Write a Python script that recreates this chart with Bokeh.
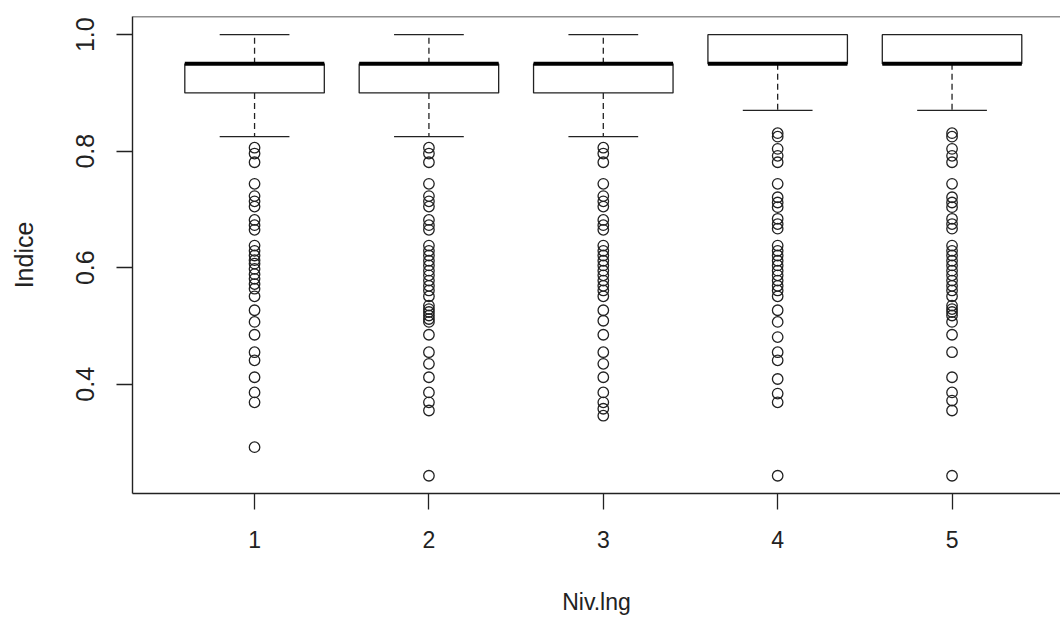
from bokeh.plotting import figure
from bokeh.models import Range1d, FixedTicker, Span, ColumnDataSource
from bokeh.embed import file_html
from bokeh.resources import INLINE

# ---- data ----
groups = [1, 2, 3, 4, 5]
group_labels = ["1", "2", "3", "4", "5"]
q1 = [0.90, 0.90, 0.90, 0.95, 0.95]
median = [0.95, 0.95, 0.95, 0.95, 0.95]
q3 = [0.95, 0.95, 0.95, 1.00, 1.00]
whisker_low = [0.825, 0.825, 0.825, 0.870, 0.870]
whisker_high = [1.00, 1.00, 1.00, 1.00, 1.00]

out1 = [0.806, 0.796, 0.781, 0.744, 0.723, 0.714, 0.705, 0.682, 0.673, 0.665,
        0.638, 0.629, 0.621, 0.613, 0.607, 0.598, 0.589, 0.581, 0.572, 0.564,
        0.551, 0.527, 0.507, 0.485, 0.455, 0.441, 0.412, 0.386, 0.369, 0.292]
out2 = [0.806, 0.796, 0.781, 0.744, 0.723, 0.714, 0.705, 0.682, 0.673, 0.665,
        0.638, 0.629, 0.621, 0.612, 0.604, 0.595, 0.587, 0.578, 0.569, 0.561,
        0.551, 0.535, 0.529, 0.524, 0.518, 0.512, 0.507, 0.485, 0.455, 0.435,
        0.412, 0.386, 0.369, 0.355, 0.243]
out3 = [0.806, 0.796, 0.781, 0.744, 0.723, 0.714, 0.705, 0.682, 0.673, 0.665,
        0.638, 0.629, 0.621, 0.612, 0.604, 0.595, 0.587, 0.578, 0.569, 0.561,
        0.551, 0.527, 0.509, 0.485, 0.455, 0.435, 0.412, 0.386, 0.369, 0.358,
        0.346]
out4 = [0.831, 0.825, 0.804, 0.792, 0.781, 0.744, 0.721, 0.712, 0.704, 0.684,
        0.675, 0.667, 0.638, 0.629, 0.621, 0.612, 0.604, 0.595, 0.587, 0.578,
        0.569, 0.561, 0.551, 0.527, 0.507, 0.481, 0.455, 0.441, 0.409, 0.384,
        0.369, 0.243]
out5 = [0.831, 0.825, 0.804, 0.792, 0.781, 0.744, 0.721, 0.712, 0.704, 0.684,
        0.675, 0.667, 0.638, 0.629, 0.621, 0.612, 0.604, 0.595, 0.587, 0.578,
        0.569, 0.561, 0.551, 0.535, 0.529, 0.524, 0.518, 0.507, 0.485, 0.455,
        0.412, 0.386, 0.372, 0.355, 0.243]
outliers = [out1, out2, out3, out4, out5]

y_ticks = [0.4, 0.6, 0.8, 1.0]
y_tick_labels = ["0.4", "0.6", "0.8", "1.0"]
x_title = "Niv.lng"
y_title = "Indice"

FONT = "Liberation Sans"
BOX_W = 0.8
STAPLE_W = 0.4
INK = "#222222"

p = figure(width=1060, height=617, output_backend="svg", toolbar_location=None,
           x_range=Range1d(0.3, 5.622), y_range=Range1d(0.2125, 1.0312),
           min_border_left=132, min_border_right=0, min_border_top=16,
           min_border_bottom=124)
p.outline_line_color = None
p.xgrid.visible = False
p.ygrid.visible = False
p.background_fill_color = "white"
p.border_fill_color = "white"

# top border of the box
p.add_layout(Span(location=1.0312, dimension="width", line_color=INK,
                  line_width=1.6))

lefts = [g - BOX_W / 2 for g in groups]
rights = [g + BOX_W / 2 for g in groups]
src = ColumnDataSource(dict(x=groups, q1=q1, q3=q3, med=median,
                            lo=whisker_low, hi=whisker_high,
                            left=lefts, right=rights,
                            sl=[g - STAPLE_W / 2 for g in groups],
                            sr=[g + STAPLE_W / 2 for g in groups]))
# whiskers (dashed)
p.segment(x0="x", y0="q3", x1="x", y1="hi", source=src, line_color=INK,
          line_width=1.3, line_dash="6 4")
p.segment(x0="x", y0="q1", x1="x", y1="lo", source=src, line_color=INK,
          line_width=1.3, line_dash="6 4")
# staples
p.segment(x0="sl", y0="hi", x1="sr", y1="hi", source=src, line_color=INK,
          line_width=1.3)
p.segment(x0="sl", y0="lo", x1="sr", y1="lo", source=src, line_color=INK,
          line_width=1.3)
# boxes
p.quad(left="left", right="right", bottom="q1", top="q3", source=src,
       fill_color="white", line_color=INK, line_width=1.3)
# medians
p.segment(x0="left", y0="med", x1="right", y1="med", source=src,
          line_color="black", line_width=4)

# outliers
ox, oy = [], []
for g, vals in zip(groups, outliers):
    ox += [g] * len(vals)
    oy += vals
p.scatter(ox, oy, marker="circle", size=10.5, fill_color=None,
          line_color=INK, line_width=1.3)

# axes
for ax in (p.xaxis, p.yaxis):
    ax.axis_line_color = INK
    ax.axis_line_width = 1.4
    ax.major_tick_line_color = INK
    ax.major_tick_line_width = 1.3
    ax.major_tick_in = 0
    ax.major_tick_out = 16
    ax.minor_tick_line_color = None
    ax.major_label_text_font = FONT
    ax.major_label_text_color = INK
    ax.axis_label_text_font = FONT
    ax.axis_label_text_font_style = "normal"
    ax.axis_label_text_color = INK

p.xaxis.ticker = FixedTicker(ticks=groups)
p.xaxis.major_label_overrides = {g: s for g, s in zip(groups, group_labels)}
p.xaxis.axis_label = x_title
p.xaxis.major_label_text_font_size = "23px"
p.xaxis.axis_label_text_font_size = "23px"
p.xaxis.major_label_standoff = 21
p.xaxis.axis_label_standoff = 38

p.yaxis.ticker = FixedTicker(ticks=y_ticks)
p.yaxis.major_label_overrides = {t: s for t, s in zip(y_ticks, y_tick_labels)}
p.yaxis.major_label_orientation = "vertical"
p.yaxis.axis_label = y_title
p.yaxis.major_label_text_font_size = "25px"
p.yaxis.axis_label_text_font_size = "25px"
p.yaxis.major_label_standoff = 22
p.yaxis.axis_label_standoff = 36

open("out.html", "w").write(file_html(p, INLINE))
